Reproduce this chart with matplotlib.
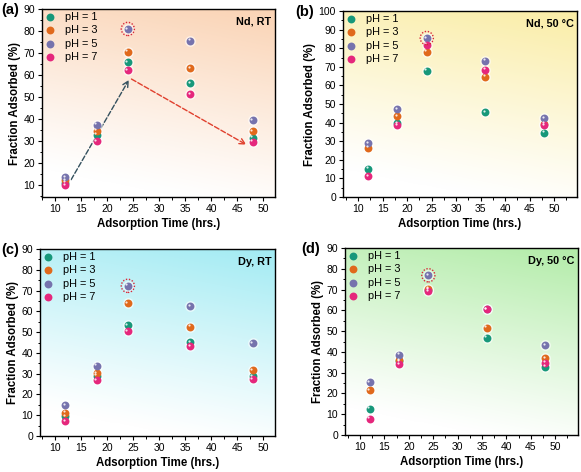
import numpy as np
import matplotlib
matplotlib.use("Agg")
import matplotlib.pyplot as plt
import matplotlib.patches as mpatches
import matplotlib.transforms as mtransforms
from matplotlib.colors import to_rgb
from matplotlib.ticker import MultipleLocator

plt.rcParams["font.family"] = ["Liberation Sans", "DejaVu Sans"]

# ---------------- DATA ----------------
times = [12, 18, 24, 36, 48]
ph_labels = ["pH = 1", "pH = 3", "pH = 5", "pH = 7"]
ph_colors = ["#17987a", "#e0691c", "#7673ad", "#e5277c"]

nd_rt = [
    [11.0, 32.8, 65.8, 56.3, 31.5],   # pH 1
    [12.2, 34.6, 70.6, 63.2, 34.5],   # pH 3
    [13.6, 37.4, 81.0, 75.6, 39.6],   # pH 5
    [10.0, 29.8, 62.3, 51.4, 29.7],   # pH 7
]
nd_50 = [
    [15.2, 39.6, 67.9, 45.7, 34.5],
    [26.6, 43.6, 78.2, 64.8, 39.5],
    [28.9, 47.3, 85.5, 73.2, 42.5],
    [11.1, 38.6, 82.0, 68.4, 38.5],
]
dy_rt = [
    [9.6, 29.0, 53.4, 45.3, 28.9],
    [11.3, 30.2, 63.8, 52.7, 31.8],
    [14.8, 33.9, 72.3, 62.5, 44.7],
    [7.1, 26.8, 50.5, 43.1, 27.3],
]
dy_50 = [
    [12.7, 35.4, 70.0, 46.9, 32.8],
    [21.6, 36.0, 70.5, 51.7, 37.0],
    [25.5, 38.6, 76.9, 60.5, 43.2],
    [7.8, 34.0, 69.2, 60.7, 34.8],
]

panels = [
    # letter, letter x (fig frac), tag, data, ylim, yticks, xlim, bg, axes rect
    ("(a)", 0.002, "Nd, RT", nd_rt, (4.5, 90), np.arange(10, 91, 10), (7.5, 52.3), "#fad3b4",
     [0.0723, 0.5826, 0.401, 0.398]),
    ("(b)", 0.508, "Nd, 50 \u00b0C", nd_50, (0, 100), np.arange(0, 101, 10), (6.9, 54.7), "#faeda6",
     [0.5904, 0.5826, 0.4028, 0.394]),
    ("(c)", 0.002, "Dy, RT", dy_rt, (0, 90), np.arange(0, 91, 10), (7.1, 52.3), "#a2ebf3",
     [0.0688, 0.0763, 0.4045, 0.396]),
    ("(d)", 0.518, "Dy, 50 \u00b0C", dy_50, (0, 90), np.arange(0, 91, 10), (6.9, 54.7), "#b2eca8",
     [0.5938, 0.0784, 0.401, 0.396]),
]

# arrows in panel (a)
arrow_up = ((13.1, 12.4), (24.2, 57.8))
arrow_down = ((24.7, 58.2), (46.8, 28.3))


def gradient(color, n=200):
    c = np.array(to_rgb(color))
    v = np.linspace(0, 1, n)[:, None]
    u = np.linspace(0, 1, n)[None, :]
    t = np.clip((0.8 * v + 0.2 * u - 0.12) / 0.88, 0, 1) ** 1.1
    img = np.ones((n, n, 3)) + t[..., None] * (c - 1.0)
    return img[::-1]


fig = plt.figure(figsize=(5.81, 4.72), dpi=100)

for letter, lx, tag, data, ylim, yticks, xlim, bg, rect in panels:
    ax = fig.add_axes(rect)
    ax.imshow(gradient(bg), extent=[0, 1, 0, 1], transform=ax.transAxes,
              aspect="auto", zorder=0, interpolation="bilinear")

    for vals, col, lab in zip(data, ph_colors, ph_labels):
        # soft white glow
        ax.scatter(times, vals, s=62, color="white", alpha=0.55, zorder=2, linewidths=0)
        ax.scatter(times, vals, s=32, color=col, zorder=3, linewidths=0, label=lab)
        # specular highlight
        hl = mtransforms.offset_copy(ax.transData, fig=fig, x=-1.0, y=1.0, units="points")
        ax.scatter(times, vals, s=2.5, color="white", alpha=0.85, zorder=4,
                   linewidths=0, transform=hl)

    # dotted circle around best pH 5 point at 24 h
    y_best = data[2][2]
    trans = fig.dpi_scale_trans + mtransforms.ScaledTranslation(24, y_best, ax.transData)
    ax.add_patch(mpatches.Circle((0, 0), radius=0.066, transform=trans, fill=False,
                                 edgecolor="#d8283a", linestyle=(0, (1, 1.2)),
                                 linewidth=1.0, zorder=5))

    if letter == "(a)":
        ax.annotate("", xy=arrow_up[1], xytext=arrow_up[0],
                    arrowprops=dict(arrowstyle="->", color="#34505e", linestyle="--",
                                    linewidth=1.0, shrinkA=0, shrinkB=0), zorder=1)
        ax.annotate("", xy=arrow_down[1], xytext=arrow_down[0],
                    arrowprops=dict(arrowstyle="->", color="#e0402e", linestyle="--",
                                    linewidth=1.0, shrinkA=0, shrinkB=0), zorder=1)

    ax.set_xlim(*xlim)
    ax.set_ylim(*ylim)
    ax.set_xticks(np.arange(10, 51, 5))
    ax.set_yticks(yticks)
    ax.xaxis.set_minor_locator(MultipleLocator(2.5))
    ax.yaxis.set_minor_locator(MultipleLocator(5))
    ax.tick_params(which="major", direction="out", length=3, width=0.8, labelsize=7.5, pad=2)
    ax.tick_params(which="minor", direction="out", length=1.8, width=0.7)
    for sp in ax.spines.values():
        sp.set_linewidth(1.0)

    ax.set_xlabel("Adsorption Time (hrs.)", fontsize=8.3, fontweight="bold", labelpad=3)
    ax.set_ylabel("Fraction Adsorbed (%)", fontsize=8.3, fontweight="bold", labelpad=2)

    ax.text(0.985, 0.96, tag, transform=ax.transAxes, ha="right", va="top",
            fontsize=7.8, fontweight="bold")

    ax.legend(loc="upper left", bbox_to_anchor=(0.0, 1.003), frameon=False,
              fontsize=7.8, handletextpad=1.0, labelspacing=0.32, borderaxespad=0.0,
              borderpad=0.3, handlelength=0.8, scatterpoints=1)

    y0 = rect[1] + rect[3] + 0.012
    fig.text(lx, y0, letter, fontsize=10.5, fontweight="bold", ha="left", va="top")

fig.savefig("out.png", dpi=100)
